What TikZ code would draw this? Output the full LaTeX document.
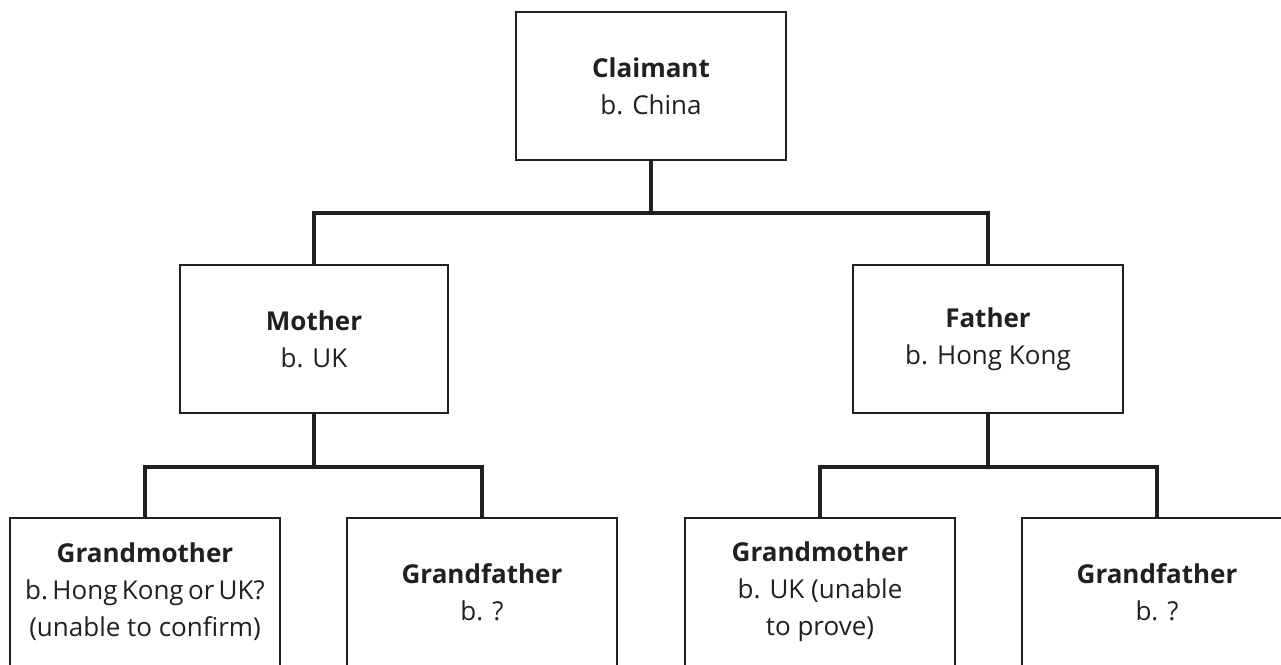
\documentclass[tikz,border=0pt]{standalone}
\usepackage{fontspec}
\setmainfont{Open Sans}
\definecolor{ink}{HTML}{231F20}
\begin{document}
\begin{tikzpicture}[x=1pt,y=-1pt,
  person/.style={draw=ink, line width=2pt, fill=white, text=ink,
    minimum width=270pt, minimum height=148pt, align=center,
    inner sep=0pt, font=\fontsize{26}{37}\selectfont},
  link/.style={draw=ink, line width=4.2pt, line cap=butt, line join=miter}]
\useasboundingbox (0,0) rectangle (1281,664);
\clip (0,0) rectangle (1281,664);
\node[person] (claim) at (651,86) {\textbf{Claimant}\\b. China};
\node[person, minimum width=268pt] (mother) at (314,339) {\textbf{Mother}\\b. UK};
\node[person] (father) at (988,339) {\textbf{Father}\\b. Hong Kong};
\node[person] (gm1) at (145,592) {\textbf{Grandmother}\\b.\,Hong\,Kong\,or\,UK?\\(unable to confirm)};
\node[person] (gf1) at (482,592) {\textbf{Grandfather}\\b. ?};
\node[person] (gm2) at (820,592) {\textbf{Grandmother}\\b. UK (unable\\to prove)};
\node[person] (gf2) at (1157,592) {\textbf{Grandfather}\\b. ?};
\coordinate (j1) at (651,213);
\coordinate (j2) at (314,467);
\coordinate (j3) at (988,467);
\draw[link] (claim.south) -- (j1);
\draw[link] (mother.north) |- (j1) -| (father.north);
\draw[link] (mother.south) -- (j2);
\draw[link] (gm1.north) |- (j2) -| (gf1.north);
\draw[link] (father.south) -- (j3);
\draw[link] (gm2.north) |- (j3) -| (gf2.north);
\end{tikzpicture}
\end{document}
